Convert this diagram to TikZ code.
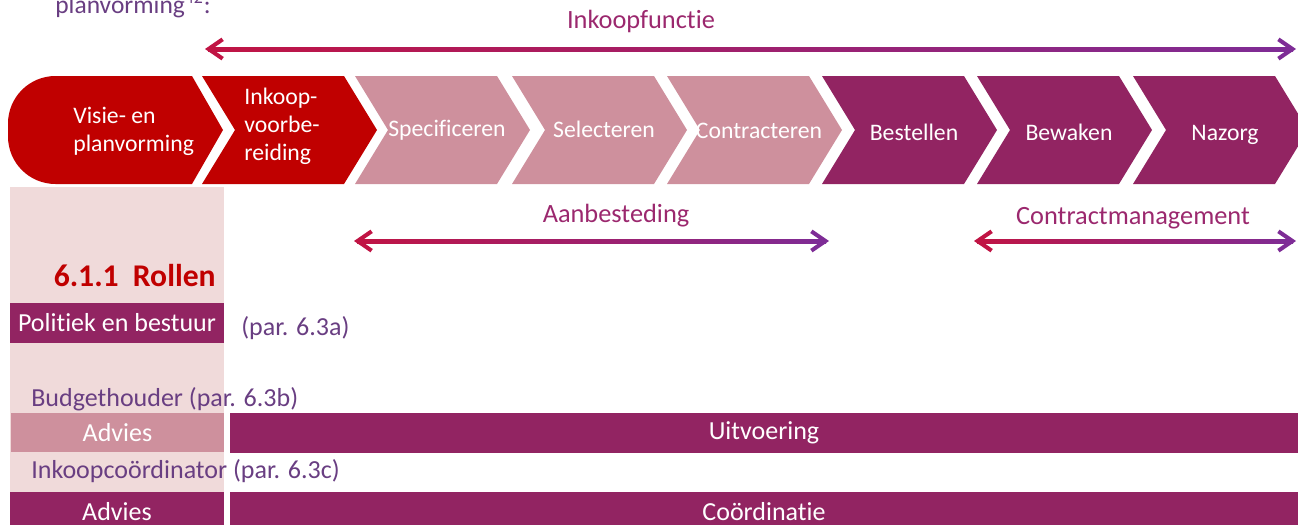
\documentclass[tikz,border=0pt]{standalone}
\usepackage{fontspec}
\setmainfont{Carlito}[Ligatures=NoCommon]
\usepackage{xcolor}
\usetikzlibrary{arrows.meta,calc}

\definecolor{rood}{RGB}{192,0,0}
\definecolor{roze}{RGB}{206,144,157}
\definecolor{paars}{RGB}{146,36,98}
\definecolor{bleek}{RGB}{240,218,218}
\definecolor{pijlA}{RGB}{192,20,68}
\definecolor{pijlB}{RGB}{126,44,150}
\definecolor{lblkleur}{RGB}{155,40,110}
\definecolor{rolkleur}{RGB}{105,62,130}

% pijl met kleurverloop
\newcommand{\pijl}[2]{%
  \shade[left color=pijlA, right color=pijlB] ($(#1)+(3,-2)$) rectangle ($(#2)+(-3,2)$);
  \draw[tip, pijlA] ($(#1)+(14,0)$) -- (#1);
  \draw[tip, pijlB] ($(#2)+(-14,0)$) -- (#2);
}

\begin{document}
\begin{tikzpicture}[
    x=0.02cm, y=-0.02cm,
    stap/.style={text=white, font=\fontsize{13.5}{16}\selectfont, inner sep=0pt},
    balk/.style={rectangle, fill=paars, text=white, font=\fontsize{14.8}{17}\selectfont, inner sep=0pt},
    lbl/.style={text=lblkleur, font=\fontsize{15}{18}\selectfont},
    rol/.style={text=rolkleur, font=\fontsize{14.8}{17}\selectfont, anchor=west, inner sep=0pt},
    tip/.style={line width=2.3pt, line cap=round, -{Straight Barb[length=8pt,width=11pt]}}
]
\useasboundingbox (0,0) rectangle (1298,524);

% Kop
\node[rol, anchor=base west, font=\fontsize{14.5}{17}\selectfont] (kop) at (55,13) {planvorming\textsuperscript{42}:};

% Achtergrond kolom
\fill[bleek] (10,187) rectangle (224,524);

% Stappen
\fill[rood] (192,76) -- (223,130) -- (192,184) [rounded corners=0.95cm] -- (8,184) -- (8,76) [sharp corners] -- cycle;
\node[stap, anchor=west, align=left] (visie) at (73,131) {Visie- en\\planvorming};
\fill[rood] (202,76) -- ++(142,0) -- ++(33,54) -- ++(-33,54) -- ++(-142,0) -- ++(33,-54) -- cycle;
\node[stap, anchor=west, align=left] (voorbereiding) at (244,126) {Inkoop-\\voorbe-\\reiding};
\foreach \x/\naam/\tekst/\kleur/\y in {355/spec/Specificeren/roze/136, 512/sel/Selecteren/roze/137,
    667/contr/Contracteren/roze/138, 822/best/Bestellen/paars/140, 977/bew/Bewaken/paars/140, 1133/naz/Nazorg/paars/140} {
  \fill[\kleur] (\x,76) -- ++(142,0) -- ++(33,54) -- ++(-33,54) -- ++(-142,0) -- ++(33,-54) -- cycle;
  \node[stap, anchor=base] (\naam) at (\x+92,\y) {\tekst};
}

% Pijlen
\coordinate (ifL) at (205,49);
\coordinate (ifR) at (1296,49);
\coordinate (aanL) at (354,241);
\coordinate (aanR) at (829,241);
\coordinate (cmL) at (974,241);
\coordinate (cmR) at (1296,241);
\pijl{ifL}{ifR}
\pijl{aanL}{aanR}
\pijl{cmL}{cmR}
\node[lbl] (inkoopfunctie) at (641,21) {Inkoopfunctie};
\node[lbl] (aanbesteding) at (616,216) {Aanbesteding};
\node[lbl] (contractmanagement) at (1133,218) {Contractmanagement};

% Rollen
\node[text=rood, font=\fontsize{18}{20}\bfseries, anchor=east, inner sep=0pt] (rollen) at (216,276) {6.1.1\hspace{0.45em}Rollen};
\node[balk, minimum width=4.28cm, minimum height=0.8cm] (politiek) at (117,323) {Politiek en bestuur};
\node[rol] (para) at (241,328) {(par. 6.3a)};
\node[rol] (budget) at (31,399) {Budgethouder (par. 6.3b)};
\node[balk, fill=roze, minimum width=4.26cm, minimum height=0.78cm] (advies1) at (117.5,432.5) {Advies};
\node[balk, minimum width=21.36cm, minimum height=0.8cm] (uitvoering) at (764,433) {Uitvoering};
\node[rol] (coordinator) at (31,471) {Inkoopcoördinator (par. 6.3c)};
\node[balk, minimum width=4.28cm, minimum height=0.8cm] (advies2) at (117,512) {Advies};
\node[balk, minimum width=21.36cm, minimum height=0.8cm] (coordinatie) at (764,512) {Coördinatie};

\end{tikzpicture}
\end{document}
